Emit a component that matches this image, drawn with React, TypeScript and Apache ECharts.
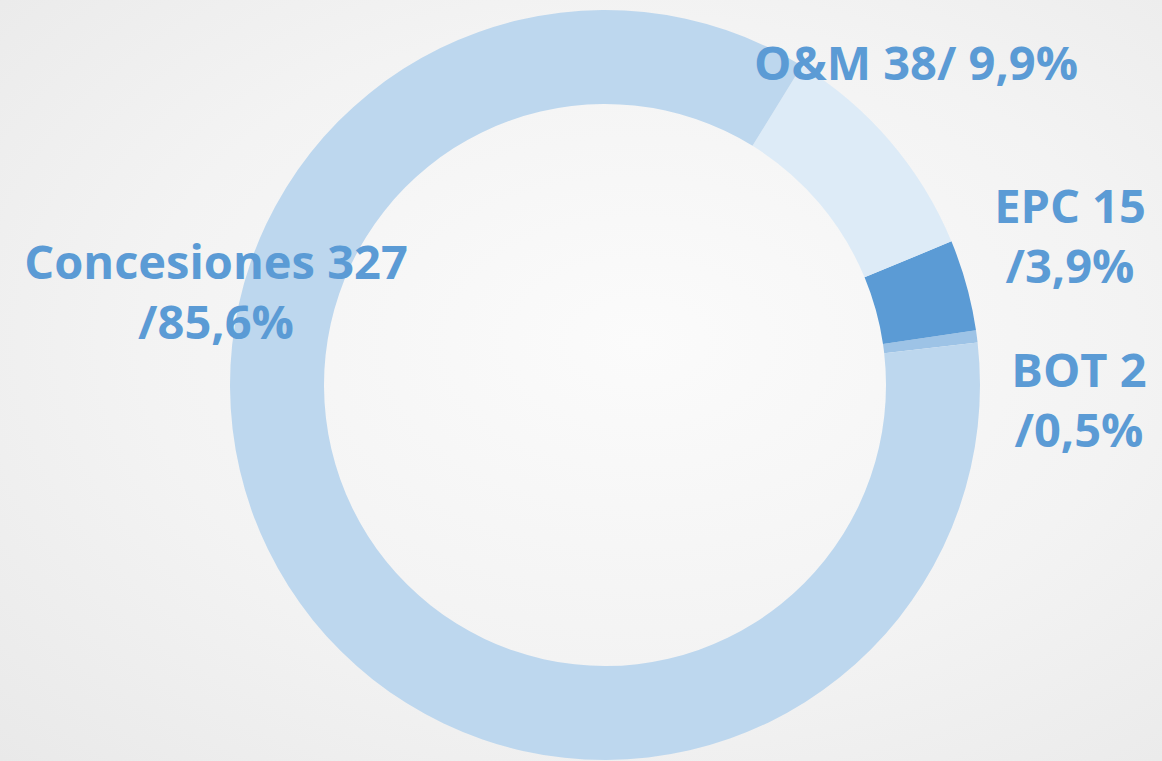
import React, { useEffect, useRef } from "react";
import * as echarts from "echarts";

const categories = ["BOT", "EPC", "O&M", "Concesiones"];
const values = [2, 15, 38, 327];
const sliceColors = ["#9DC3E6", "#5B9BD5", "#DDEBF7", "#BDD7EE"];
// separator between value and percentage in each label
const separators = ["\n/", "\n/", "/ ", "\n/"];
// label anchor positions (px)
const labelPos: [number, number][] = [
  [1079, 399],
  [1070, 235],
  [916, 62],
  [216, 291],
];

export default function App() {
  const ref = useRef<HTMLDivElement>(null);
  useEffect(() => {
    if (!ref.current) return;
    const chart = echarts.init(ref.current, null, { renderer: "svg" });
    const total = values.reduce((a, b) => a + b, 0);
    chart.setOption({
      animation: false,
      backgroundColor: "transparent",
      series: [
        {
          type: "pie",
          center: [605, 385],
          radius: [281, 375],
          startAngle: 6.5,
          clockwise: false,
          avoidLabelOverlap: false,
          itemStyle: { borderWidth: 0 },
          emphasis: { disabled: true },
          labelLine: { show: false },
          label: {
            show: true,
            position: "outside",
            color: "#5B9BD5",
            fontFamily: "Open Sans",
            fontWeight: "bold",
            fontSize: 47,
            lineHeight: 60,
            align: "center",
            formatter: (p: any) => {
              const pct = ((values[p.dataIndex] / total) * 100)
                .toFixed(1)
                .replace(".", ",");
              return `${p.name} ${p.value}${separators[p.dataIndex]}${pct}%`;
            },
          },
          labelLayout: (p: any) => ({
            x: labelPos[p.dataIndex][0],
            y: labelPos[p.dataIndex][1],
            align: "center",
            verticalAlign: "middle",
          }),
          data: categories.map((c, i) => ({
            name: c,
            value: values[i],
            itemStyle: { color: sliceColors[i] },
          })),
        },
      ],
    });
    return () => chart.dispose();
  }, []);
  return (
    <div
      style={{
        position: "absolute",
        left: 0,
        top: 0,
        width: 1162,
        height: 761,
        background:
          "radial-gradient(ellipse at 55% 45%, #fbfbfb 0%, #f3f3f3 55%, #e9e9e9 100%)",
      }}
    >
      <div ref={ref} style={{ width: 1162, height: 761 }} />
    </div>
  );
}
